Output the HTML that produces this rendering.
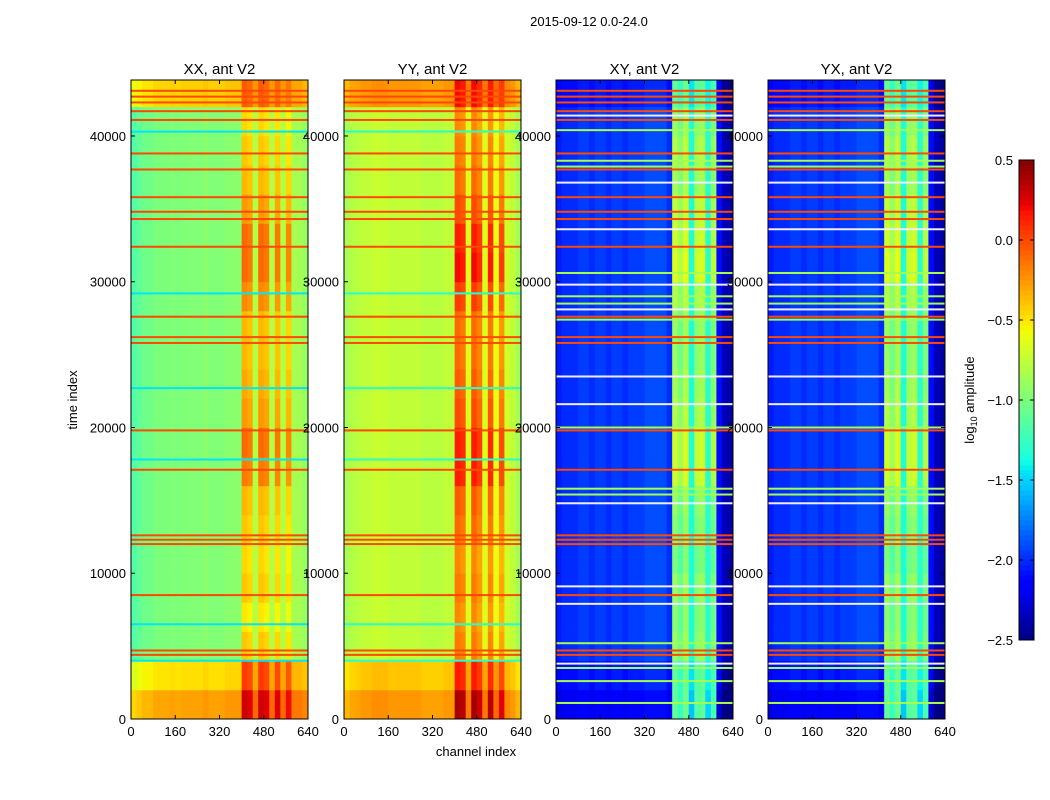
<!DOCTYPE html>
<html><head><meta charset="utf-8"><style>
body{margin:0;background:#fff;}
svg{display:block;font-family:"Liberation Sans",sans-serif;}
</style></head><body>
<svg id="fig" width="1050" height="800" viewBox="0 0 1050 800">
<text x="589" y="26" font-size="13" text-anchor="middle">2015-09-12 0.0-24.0</text>
<text x="476" y="756" font-size="13" text-anchor="middle">channel index</text>
<text x="77" y="400" font-size="13" text-anchor="middle" transform="rotate(-90 77 400)">time index</text>
<text x="974" y="400" font-size="13" text-anchor="middle" transform="rotate(-90 974 400)">log<tspan font-size="9" dy="3">10</tspan><tspan dy="-3"> amplitude</tspan></text>
</svg>
<script>
// ---- data ----
const panelTitles = ["XX, ant V2","YY, ant V2","XY, ant V2","YX, ant V2"];
const xTicks = [0,160,320,480,640];
const yTicks = [0,10000,20000,30000,40000];
const cbTicks = [0.5,0.0,-0.5,-1.0,-1.5,-2.0,-2.5];
const cbLabels = ["0.5","0.0","\u22120.5","\u22121.0","\u22121.5","\u22122.0","\u22122.5"];
// per-channel base (32 bins of 20 channels)
const baseXX = [-1.15,-1.1,-1.05,-1.05,-1.0,-1.0,-1.0,-0.98,-1.0,-0.98,-0.98,-0.98,-0.98,-0.95,-0.98,-0.98,-0.98,-0.95,-0.95,-0.95,-0.5,-0.55,-0.8,-0.5,-0.55,-0.8,-0.55,-0.8,-0.6,-0.85,-0.85,-0.9];
const baseYY = [-0.85,-0.8,-0.78,-0.75,-0.75,-0.72,-0.72,-0.72,-0.75,-0.75,-0.75,-0.75,-0.75,-0.75,-0.78,-0.78,-0.78,-0.78,-0.75,-0.75,-0.3,-0.35,-0.65,-0.3,-0.4,-0.65,-0.35,-0.6,-0.45,-0.7,-0.75,-0.85];
const baseXY = [-2.05,-2.0,-2.0,-2.0,-1.95,-1.95,-2.0,-1.95,-1.95,-2.0,-1.95,-1.95,-2.0,-1.95,-1.95,-1.95,-1.9,-1.9,-1.9,-1.9,-2.0,-1.0,-1.15,-0.95,-1.35,-1.05,-1.0,-1.3,-1.1,-2.1,-2.35,-2.4];
const baseYX = [-2.05,-2.0,-2.0,-2.0,-1.95,-1.95,-2.0,-1.95,-1.95,-2.0,-1.95,-1.95,-2.0,-1.95,-1.95,-1.95,-1.9,-1.9,-1.9,-1.9,-2.0,-1.0,-1.15,-0.95,-1.35,-1.05,-1.0,-1.3,-1.1,-2.1,-2.35,-2.4];
// stripe-region amplitude per time band (22 bands of 2000, bottom to top)
const stripeXX = [0.1,0.05,0.1,0.0,0.1,0.05,0.1,0.15,0.35,0.4,0.25,0.2,0.15,0.15,0.3,0.4,0.4,0.25,0.15,0.1,0.05,-0.1];
const stripeYY = [0.2,0.1,0.15,0.1,0.15,0.1,0.2,0.25,0.45,0.45,0.3,0.25,0.2,0.2,0.35,0.5,0.45,0.3,0.2,0.15,0.1,0.0];
const stripeXY = [0.1,0.0,0.1,0.05,0.1,0.0,0.05,0.1,0.3,0.3,0.2,0.15,0.1,0.1,0.2,0.35,0.3,0.25,0.15,0.2,0.1,0.0];
// whole-row offset per time band
const rowXX = [0.7,0.5,0.0,0,0,0,0,0,0,0,0,0,0,0,0,0,0,0,0,0,0,0.55];
const rowYY = [0.5,0.35,0.0,0,0,0,0,0,0,0,0,0,0,0,0,0,0,0,0,0,0,0.5];
const rowXY = [-0.2,-0.1,0,0,0,0,0,0,0,0,0,0,0,0,0,0,0,0,0,0,0,-0.1];
// flagged rows
const redLines = [43100,42700,42300,41700,41100,38800,37700,35800,34800,34300,32400,27600,26200,25800,19800,17100,12600,12300,12000,8500,4700,4400];
const cyanLinesXX = [40300,29200,22700,17800,6500,4000];
const greenLinesXY = [40400,38300,37900,30600,29000,28500,27400,20000,15800,15400,5200,3500,2600,1100];
const whiteLinesXY = [41400,36800,33600,29800,28100,23500,21600,14800,9100,7900,3800];
const redVal = 0.0, cyanVal = -1.45, greenVal = -0.85;

// ---- layout ----
const panelsX = [131,344,556,768], pw = 177, py0 = 80, py1 = 719, tMax = 43840;
const NS = "http://www.w3.org/2000/svg";
const svg = document.getElementById('fig');
function interp(t,pts){for(let i=1;i<pts.length;i++){if(t<=pts[i][0]){const [a,va]=pts[i-1],[b,vb]=pts[i];return va+(vb-va)*(t-a)/(b-a);}}return pts[pts.length-1][1];}
function jet(v){let t=(v+2.5)/3;t=Math.max(0,Math.min(1,t));
 const r=interp(t,[[0,0],[0.35,0],[0.66,1],[0.89,1],[1,0.5]]);
 const g=interp(t,[[0,0],[0.125,0],[0.375,1],[0.64,1],[0.91,0],[1,0]]);
 const b=interp(t,[[0,0.5],[0.11,1],[0.34,1],[0.65,0],[1,0]]);
 const c=x=>Math.round(255*x);return `rgb(${c(r)},${c(g)},${c(b)})`;}
function mk(tag,attrs){const e=document.createElementNS(NS,tag);for(const k in attrs)e.setAttribute(k,attrs[k]);return e;}
const yS = t => py1 - t/tMax*(py1-py0);
const panels = [
 {base:baseXX,stripe:stripeXX,row:rowXX,extra:[[cyanLinesXX,cyanVal,null]]},
 {base:baseYY,stripe:stripeYY,row:rowYY,extra:[[cyanLinesXX,-1.3,null]]},
 {base:baseXY,stripe:stripeXY,row:rowXY,extra:[[greenLinesXY,greenVal,null],[whiteLinesXY,0,'#eef']]},
 {base:baseYX,stripe:stripeXY,row:rowXY,extra:[[greenLinesXY,greenVal,null],[whiteLinesXY,0,'#eef']]}
];
panels.forEach((p,pi)=>{
  const x0 = panelsX[pi], xS = c => x0 + c/640*pw;
  const g = mk('g',{});
  
  
  svg.appendChild(g);
  for(let b=0;b<p.stripe.length;b++){
    const t0=b*2000, t1=Math.min(tMax,(b+1)*2000);
    for(let c=0;c<p.base.length;c++){
      const striped = c>=20 && c<=29 && p.base[c] > (pi<2?(pi==0?-0.7:-0.6):-1.2);
      const v = p.base[c] + (striped?p.stripe[b]:0) + p.row[b];
      const r = mk('rect',{x:xS(c*20).toFixed(2),y:yS(t1).toFixed(2),width:(pw/32+0.4).toFixed(2),height:(yS(t0)-yS(t1)+0.4).toFixed(2),fill:jet(v)});
      
      
      g.appendChild(r);
    }
  }
  const lines = [[redLines,redVal,null]].concat(p.extra);
  lines.forEach(([arr,val,col])=>arr.forEach(t=>{
    const r = mk('rect',{x:x0,y:(yS(t)-1).toFixed(2),width:pw,height:2,fill:col||jet(val)});
    
    
    g.appendChild(r);
  }));
  const fr = mk('rect',{x:x0,y:py0,width:pw,height:py1-py0,fill:'none',stroke:'#000','stroke-width':1});
  
  
  svg.appendChild(fr);
  const tt = mk('text',{x:x0+pw/2,y:74,'font-size':15,'text-anchor':'middle'});
  tt.textContent = panelTitles[pi];
  
  
  svg.appendChild(tt);
  xTicks.forEach(v=>{
    const x=xS(v);
    svg.appendChild(mk('line',{x1:x,x2:x,y1:py1,y2:py1-4,stroke:'#000'}));
    svg.appendChild(mk('line',{x1:x,x2:x,y1:py0,y2:py0+4,stroke:'#000'}));
    const l=mk('text',{x:x,y:py1+17,'font-size':13,'text-anchor':'middle'});l.textContent=v;
    
    
    svg.appendChild(l);
  });
  yTicks.forEach(v=>{
    const y=yS(v);
    svg.appendChild(mk('line',{x1:x0,x2:x0+4,y1:y,y2:y,stroke:'#000'}));
    svg.appendChild(mk('line',{x1:x0+pw,x2:x0+pw-4,y1:y,y2:y,stroke:'#000'}));
    const l=mk('text',{x:x0-5,y:y+5,'font-size':13,'text-anchor':'end'});l.textContent=v;
    
    
    svg.appendChild(l);
  });
});
// colorbar
const cbx=1019, cbw=15, cby0=160, cby1=640;
const cbS = v => cby1 - (v+2.5)/3*(cby1-cby0);
for(let i=0;i<96;i++){
  const v=-2.5+i*3/96;
  const r=mk('rect',{x:cbx,y:(cbS(v+3/96)).toFixed(2),width:cbw,height:(480/96+0.5).toFixed(2),fill:jet(v+1.5/96)});
  
  
  svg.appendChild(r);
}
const cbf=mk('rect',{x:cbx,y:cby0,width:cbw,height:cby1-cby0,fill:'none',stroke:'#000'});


svg.appendChild(cbf);
cbTicks.forEach((v,i)=>{
  const y=cbS(v);
  svg.appendChild(mk('line',{x1:cbx,x2:cbx+4,y1:y,y2:y,stroke:'#000'}));
  svg.appendChild(mk('line',{x1:cbx+cbw-4,x2:cbx+cbw,y1:y,y2:y,stroke:'#000'}));
  const l=mk('text',{x:cbx-6,y:y+5,'font-size':13,'text-anchor':'end'});l.textContent=cbLabels[i];
  
  
  svg.appendChild(l);
});
</script>
</body></html>
